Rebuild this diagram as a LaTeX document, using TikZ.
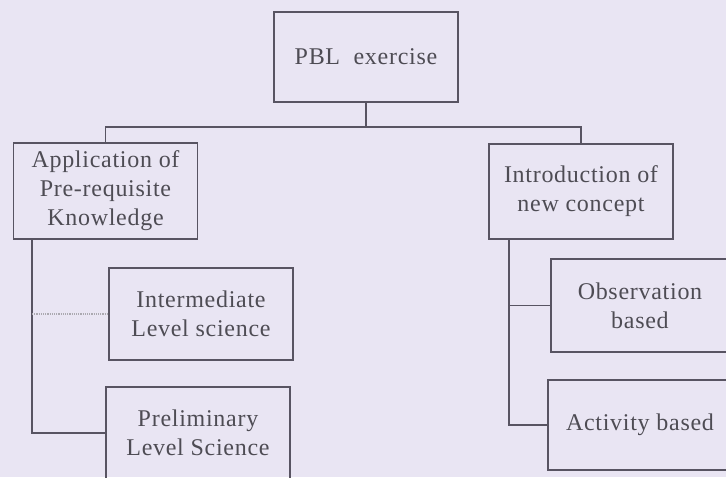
\documentclass[tikz,border=0pt]{standalone}
\usepackage{fontspec}
\setmainfont[LetterSpace=3]{Liberation Serif}
\usepackage{tikz}
\usetikzlibrary{positioning}
\usepackage{xcolor}
\definecolor{bgcol}{RGB}{233,229,243}
\definecolor{linecol}{RGB}{88,84,98}
\definecolor{textcol}{RGB}{78,76,84}

\begin{document}
\begin{tikzpicture}[x=1pt, y=-1pt,
		box/.style={draw=linecol, line width=1.3pt, text=textcol, minimum width=184pt, minimum height=92pt, inner sep=0pt, align=center, font=\fontsize{24}{29}\selectfont},
		link/.style={draw=linecol, line width=1.3pt},
		faint/.style={draw=linecol!50, line width=1.2pt, densely dotted}]
			    		\fill[bgcol] (0,0) rectangle (726,477);
			    		\clip (0,0) rectangle (726,477);
			    		\node[box, minimum height=90pt] (pbl) at (366,57) {PBL\ \ exercise};
			    		\node[box, minimum height=96pt] (app) at (105.5,191) {Application of\\Pre-requisite\\Knowledge};
			    		\node[box, minimum height=95pt] (intro) at (581,191.5) {Introduction of\\new concept};
			    		\node[box] (inter) at (201,314) {Intermediate\\Level science};
			    		\node[box] (prelim) at (198,433) {Preliminary\\Level Science};
			    		\node[box, minimum width=178pt, minimum height=93pt] (obs) at (640,305.5) {Observation\\based};
			    		\node[box, minimum height=90pt] (act) at (640,425) {Activity based};
			    		\coordinate (bus) at (366,127);
			    		\coordinate (ltrunk) at (32,239);
			    		\coordinate (rtrunk) at (509,239);
			    		\draw[link] (pbl.south) -- (bus);
			    		\draw[link] (app.north) |- (bus) -| (intro.north);
			    		\draw[link] (ltrunk) |- (prelim.west);
			    		\draw[faint] (ltrunk |- inter.west) -- (inter.west);
			    		\draw[link] (rtrunk) |- (act.west);
			    		\draw[link] (rtrunk |- obs.west) -- (obs.west);
			    	\end{tikzpicture}
\end{document}
